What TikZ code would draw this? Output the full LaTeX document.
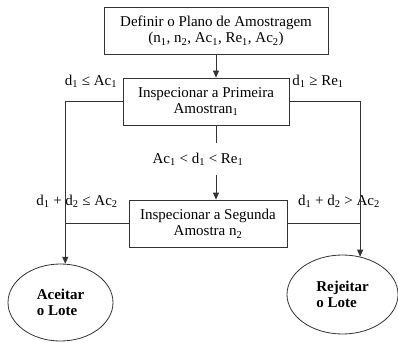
\documentclass[tikz,border=0pt]{standalone}
\usepackage{fontspec}
\setmainfont{Liberation Serif}
\usetikzlibrary{shapes.geometric,arrows.meta}

\newcommand{\sub}[1]{\textsubscript{#1}}

\begin{document}
\begin{tikzpicture}[x=1pt,y=-1pt]
		\tikzstyle{every node}=[font=\fontsize{15pt}{16.5pt}\selectfont]
		\tikzstyle{caixa}=[draw=black!80, line width=0.8pt, align=center, inner sep=0pt, minimum height=47pt]
		\tikzstyle{fim}=[draw=black!80, line width=0.8pt, ellipse, align=left, inner sep=0pt, font=\fontsize{15pt}{16.5pt}\selectfont\bfseries]
		\tikzstyle{linha}=[draw=black!80, line width=0.8pt]
		\tikzstyle{seta}=[linha, -{Triangle[length=7pt,width=6pt]}]
		
		\useasboundingbox (0,0) rectangle (398,342);
		
		\node[caixa, minimum width=224pt] (def) at (216,31) {Definir o Plano de Amostragem\\ (n\sub{1}, n\sub{2}, Ac\sub{1}, Re\sub{1}, Ac\sub{2})};
		\node[caixa, minimum width=166pt] (prim) at (206,101.5) {Inspecionar a Primeira\\ Amostran\sub{1}};
		\node[caixa, minimum width=158pt] (seg) at (208,223.5) {Inspecionar a Segunda\\ Amostra n\sub{2}};
		
		\node[fim, minimum width=105pt, minimum height=77pt] (aceitar) at (60.5,302.5) {Aceitar\\o Lote};
		\node[fim, minimum width=111pt, minimum height=79pt] (rejeitar) at (342.5,294.5) {Rejeitar\\o Lote};
		
		\node (aceita1) at (91,81) {d\sub{1} ≤ Ac\sub{1}};
		\node (rejeita1) at (318,81) {d\sub{1} ≥ Re\sub{1}};
		\node[minimum height=32pt, inner sep=0pt] (cond) at (198,159) {Ac\sub{1} < d\sub{1} < Re\sub{1}};
		\node (aceita2) at (77,201) {d\sub{1} + d\sub{2} ≤ Ac\sub{2}};
		\node (rejeita2) at (339,201) {d\sub{1} + d\sub{2} > Ac\sub{2}};
		
		\draw[seta] (def.south) -- (def.south |- prim.north);
		\draw[linha] (prim.south -| def.south) -- (cond.north -| def.south);
		\draw[seta] (cond.south -| def.south) -- (seg.north -| def.south);
		
		\draw[seta] (prim.west) -| (aceitar.83);
		\draw[seta] (prim.east) -| (rejeitar.65);
		\draw[linha] (seg.west) -- (seg.west -| aceitar.83);
		\draw[linha] (seg.east) -- (seg.east -| rejeitar.65);
		
	\end{tikzpicture}
\end{document}
